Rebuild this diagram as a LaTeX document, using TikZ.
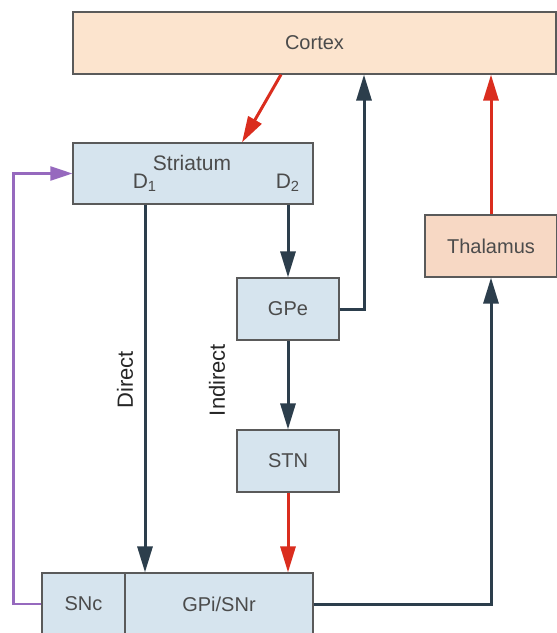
\documentclass[tikz,border=0pt]{standalone}
\usepackage{fontspec}
\setmainfont{Liberation Sans}
\definecolor{cortexpeach}{RGB}{252, 228, 206}
\definecolor{thalpeach}{RGB}{247, 216, 196}
\definecolor{nucblue}{RGB}{214, 228, 238}
\definecolor{darkpath}{RGB}{44, 62, 76}
\definecolor{excitred}{RGB}{218, 45, 30}
\definecolor{dopapurple}{RGB}{150, 105, 190}
\definecolor{boxgray}{RGB}{90, 90, 90}
\definecolor{textgray}{RGB}{75, 75, 75}
\usetikzlibrary{arrows.meta, calc}

\begin{document}
\begin{tikzpicture}[x=0.5pt, y=-0.5pt,
    nucbox/.style={draw=boxgray, line width=0.6pt, fill=nucblue, inner sep=0pt, minimum height=31pt, text=textgray, font=\fontsize{10}{12}\selectfont},
    lbl/.style={inner sep=0pt, text=textgray, font=\fontsize{10}{12}\selectfont},
    darr/.style={draw=darkpath, line width=1.5pt, -{Triangle[length=13pt, width=7.5pt]}},
    rarr/.style={draw=excitred, line width=1.5pt, -{Triangle[length=13pt, width=7.5pt]}},
    parr/.style={draw=dopapurple, line width=1.2pt, -{Triangle[length=11pt, width=7pt]}}]
  \useasboundingbox (0, 0) rectangle (557, 633);

  % Boxes
  \node[nucbox, fill=cortexpeach, minimum width=241.5pt] (cortex) at (314.5, 43) {Cortex};
  \node[nucbox, minimum width=120pt, minimum height=30.5pt] (striatum) at (193, 173.5) {};
  \node[lbl, font=\fontsize{10.5}{12}\selectfont] (strlabel) at (192, 163) {Striatum};
  \node[lbl, font=\fontsize{10.5}{12}\selectfont] (d1) at (145, 183) {D\textsubscript{1}};
  \node[lbl, font=\fontsize{10.5}{12}\selectfont] (d2) at (288, 183) {D\textsubscript{2}};
  \node[nucbox, fill=thalpeach, minimum width=66pt] (thalamus) at (491, 246) {Thalamus};
  \node[nucbox, minimum width=51pt] (gpe) at (288, 309) {GPe};
  \node[nucbox, minimum width=51pt] (stn) at (288, 461) {STN};
  \node[nucbox, minimum width=41.5pt] (snc) at (83.5, 604) {SNc};
  \node[nucbox, minimum width=94pt] (gpi) at (219, 604) {GPi/SNr};

  % Pathway labels
  \node[lbl, rotate=90, text=black!85, font=\fontsize{11}{13}\selectfont] (direct) at (125, 380) {Direct};
  \node[lbl, rotate=90, text=black!85, font=\fontsize{11}{13}\selectfont] (indirect) at (217, 380) {Indirect};

  % Connections
  \draw[rarr] ([xshift=-16.75pt]cortex.south) -- ([xshift=24.5pt]striatum.north);
  \draw[darr] (striatum.south -| d1) -- (gpi.north -| d1);
  \draw[darr] (striatum.south -| d2) -- (gpe.north);
  \draw[darr] (gpe.south) -- (stn.north);
  \draw[rarr] (stn.south) -- (stn.south |- gpi.north);
  \draw[darr] (gpe.east) -| ([xshift=24.75pt]cortex.south);
  \draw[darr] (gpi.east) -| (thalamus.south);
  \draw[rarr] (thalamus.north) -- (thalamus.north |- cortex.south);
  \draw[parr] (snc.west) -- ++(-14pt, 0) |- (striatum.west);
\end{tikzpicture}
\end{document}
